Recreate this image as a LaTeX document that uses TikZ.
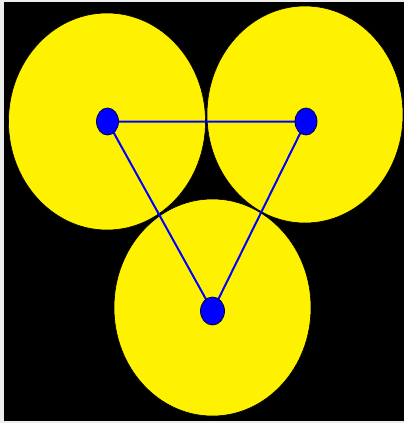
\documentclass[tikz,border=0pt]{standalone}
\usetikzlibrary{shapes.geometric}
\begin{document}
\begin{tikzpicture}[x=1pt,y=-1pt,
  disc/.style={fill=yellow, draw=black, line width=0.6pt},
  dot/.style={ellipse, fill=blue, draw=black!70!blue, line width=0.8pt, inner sep=0pt},
  link/.style={draw=blue, line width=2pt}]
\useasboundingbox (0,0) rectangle (404,423);
\fill[black!7] (0,0) rectangle (404,423);
\fill[black] (4,2) rectangle (404,421);
\path[disc] (107,121.5) ellipse [x radius=98.5, y radius=108.5];
\path[disc] (305,114.5) ellipse [x radius=98, y radius=108.5];
\path[disc] (212.5,307.5) ellipse [x radius=98.5, y radius=108.5];
\coordinate (A) at (107.5,121.5);
\coordinate (B) at (306,121.5);
\coordinate (C) at (212.5,311);
\draw[link] (A) -- (B) -- (C) -- cycle;
\node[dot, minimum width=22pt, minimum height=27pt] (a) at (A) {};
\node[dot, minimum width=22pt, minimum height=27pt] (b) at (B) {};
\node[dot, minimum width=24pt, minimum height=28pt] (c) at (C) {};
\end{tikzpicture}
\end{document}
